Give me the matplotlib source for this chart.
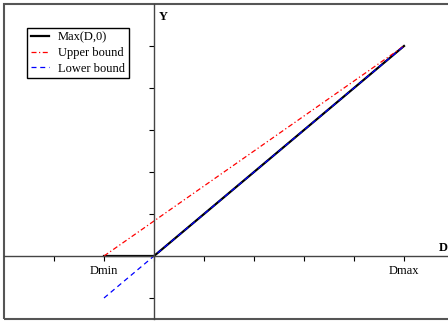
import matplotlib.pyplot as plt
from matplotlib.patches import Rectangle

plt.rcParams['font.family'] = ['Liberation Serif', 'DejaVu Serif']

# data
max_x = [-1, 0, 5]
max_y = [0, 0, 5]
upper_x = [-1, 5]
upper_y = [0, 5]
lower_x = [-1, 5]
lower_y = [-1, 5]
xticks = [-2, -1, 0, 1, 2, 3, 4, 5]
xticklabels = ['', 'Dmin', '', '', '', '', '', 'Dmax']
yticks = [-1, 1, 2, 3, 4, 5]

fig = plt.figure(figsize=(4.48, 3.25), dpi=100)
ax = fig.add_axes([4 / 448, 6 / 325, 450 / 448, 315 / 325])

ax.plot(max_x, max_y, color='black', lw=1.6, label='Max(D,0)')
ax.plot(upper_x, upper_y, color='red', lw=0.9, ls=(0, (4, 2, 1, 2)), label='Upper bound')
ax.plot(lower_x, lower_y, color='blue', lw=0.9, ls=(0, (4, 3)), label='Lower bound')

ax.set_xlim(-3, 6)
ax.set_ylim(-1.5, 6)

for s in ['top', 'right']:
    ax.spines[s].set_visible(False)
ax.spines['left'].set_position(('data', 0))
ax.spines['bottom'].set_position(('data', 0))
ax.spines['left'].set_color('#444444')
ax.spines['bottom'].set_color('#444444')
ax.spines['left'].set_linewidth(1.0)
ax.spines['bottom'].set_linewidth(1.0)

ax.set_xticks(xticks)
ax.set_xticklabels(xticklabels, fontsize=9)
ax.set_yticks(yticks)
ax.set_yticklabels([])
ax.tick_params(axis='both', direction='out', length=3.5, width=0.8, color='black')
ax.tick_params(axis='x', pad=3)

# outer frame
ax.add_patch(Rectangle((0, 0), 1, 1, transform=ax.transAxes, fill=False,
                       edgecolor='#555555', lw=1.5, clip_on=False))

ax.text(0.1, 5.68, 'Y', fontsize=9, fontweight='bold', va='center', ha='left')
ax.text(5.69, 0.2, 'D', fontsize=9, fontweight='bold', va='center', ha='left')

leg = ax.legend(loc='upper left', bbox_to_anchor=(23 / 450, 1 - 24 / 315), fontsize=9,
                frameon=True, fancybox=False, edgecolor='black', framealpha=1,
                handlelength=1.45, handletextpad=0.72, borderpad=0.3, labelspacing=0.27,
                borderaxespad=0)
leg.get_frame().set_linewidth(1.0)

fig.savefig('out.png', dpi=100)
